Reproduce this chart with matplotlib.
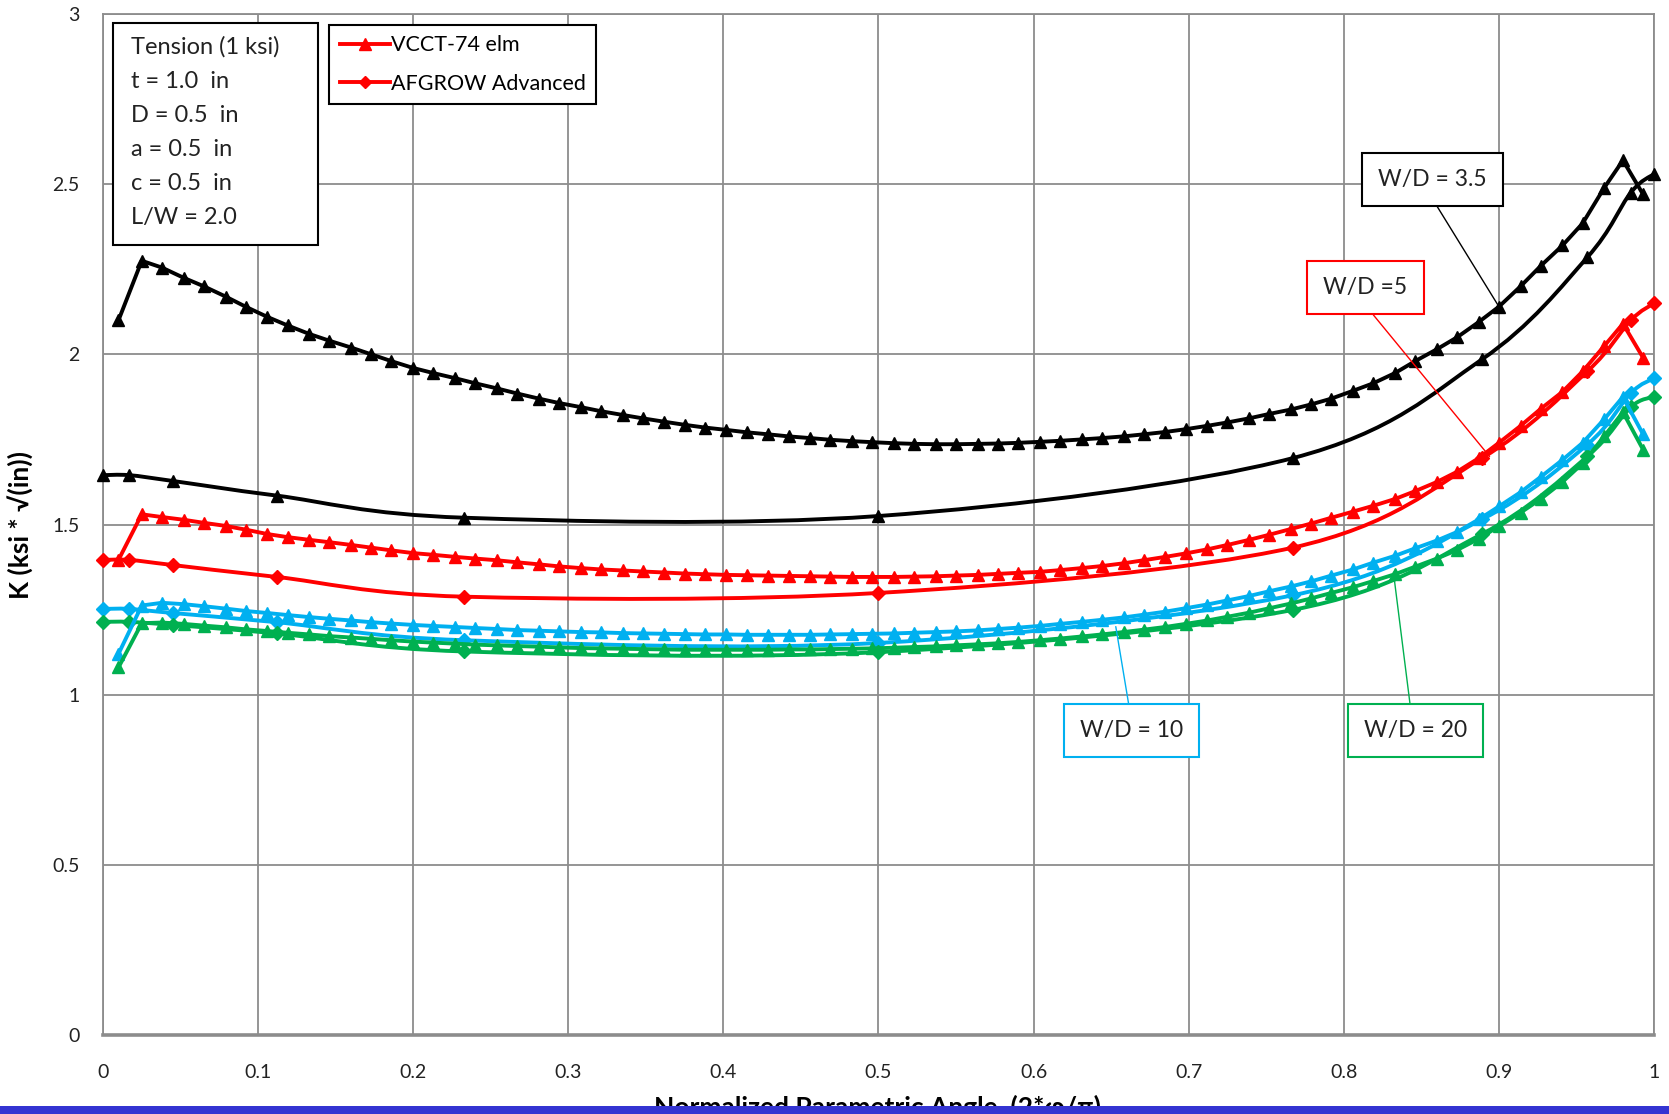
import matplotlib
matplotlib.use("Agg")
import matplotlib.pyplot as plt
from matplotlib.path import Path
from matplotlib.patches import PathPatch, Rectangle
from matplotlib.lines import Line2D

plt.rcParams['font.family'] = ['Lato', 'DejaVu Sans']

# VCCT-74 element results (parametric angle of each element)
x_vcct = [0.010, 0.025, 0.038, 0.052, 0.065, 0.079, 0.092, 0.106, 0.119, 0.133,
          0.146, 0.160, 0.173, 0.186, 0.200, 0.213, 0.227, 0.240, 0.254, 0.267,
          0.281, 0.294, 0.308, 0.321, 0.335, 0.348, 0.362, 0.375, 0.388, 0.402,
          0.415, 0.429, 0.442, 0.456, 0.469, 0.483, 0.496, 0.510, 0.523, 0.537,
          0.550, 0.564, 0.577, 0.590, 0.604, 0.617, 0.631, 0.644, 0.658, 0.671,
          0.685, 0.698, 0.712, 0.725, 0.739, 0.752, 0.766, 0.779, 0.792, 0.806,
          0.819, 0.833, 0.846, 0.860, 0.873, 0.887, 0.900, 0.914, 0.927, 0.941,
          0.954, 0.968, 0.980, 0.993]

k_vcct_35 = [2.100, 2.275, 2.255, 2.225, 2.200, 2.170, 2.140, 2.110, 2.085, 2.060,
             2.040, 2.020, 2.000, 1.980, 1.960, 1.945, 1.930, 1.915, 1.900, 1.885,
             1.870, 1.857, 1.845, 1.833, 1.822, 1.812, 1.802, 1.793, 1.785, 1.778,
             1.771, 1.765, 1.759, 1.754, 1.749, 1.745, 1.742, 1.739, 1.737, 1.736,
             1.736, 1.737, 1.738, 1.740, 1.743, 1.746, 1.750, 1.754, 1.759, 1.765,
             1.772, 1.780, 1.790, 1.800, 1.812, 1.825, 1.838, 1.853, 1.870, 1.893,
             1.915, 1.945, 1.980, 2.015, 2.050, 2.095, 2.140, 2.200, 2.260, 2.320,
             2.385, 2.490, 2.570, 2.470]

k_vcct_5 = [1.396, 1.530, 1.522, 1.514, 1.505, 1.496, 1.485, 1.472, 1.463, 1.455,
            1.448, 1.440, 1.432, 1.424, 1.416, 1.411, 1.405, 1.400, 1.395, 1.389,
            1.383, 1.377, 1.372, 1.368, 1.365, 1.362, 1.359, 1.356, 1.354, 1.352,
            1.351, 1.350, 1.349, 1.348, 1.347, 1.346, 1.346, 1.346, 1.347, 1.348,
            1.350, 1.352, 1.355, 1.358, 1.361, 1.366, 1.372, 1.378, 1.386, 1.395,
            1.405, 1.415, 1.427, 1.440, 1.455, 1.470, 1.487, 1.503, 1.520, 1.538,
            1.555, 1.575, 1.598, 1.625, 1.655, 1.695, 1.740, 1.790, 1.840, 1.890,
            1.950, 2.025, 2.090, 1.990]

k_vcct_10 = [1.120, 1.262, 1.270, 1.266, 1.260, 1.253, 1.246, 1.240, 1.234, 1.228,
             1.223, 1.218, 1.213, 1.209, 1.205, 1.202, 1.199, 1.196, 1.193, 1.190,
             1.188, 1.186, 1.184, 1.183, 1.181, 1.180, 1.179, 1.178, 1.177, 1.177,
             1.176, 1.176, 1.176, 1.176, 1.177, 1.178, 1.179, 1.180, 1.182, 1.184,
             1.186, 1.189, 1.193, 1.197, 1.202, 1.208, 1.214, 1.220, 1.227, 1.235,
             1.244, 1.254, 1.265, 1.277, 1.290, 1.304, 1.318, 1.333, 1.350, 1.368,
             1.388, 1.408, 1.430, 1.453, 1.478, 1.515, 1.553, 1.595, 1.640, 1.690,
             1.740, 1.810, 1.875, 1.765]

k_vcct_20 = [1.080, 1.210, 1.212, 1.208, 1.203, 1.198, 1.192, 1.187, 1.182, 1.177,
             1.172, 1.168, 1.164, 1.160, 1.156, 1.153, 1.150, 1.147, 1.145, 1.143,
             1.141, 1.139, 1.137, 1.136, 1.135, 1.134, 1.133, 1.132, 1.132, 1.132,
             1.132, 1.132, 1.133, 1.133, 1.134, 1.135, 1.136, 1.138, 1.140, 1.142,
             1.145, 1.148, 1.151, 1.155, 1.160, 1.165, 1.171, 1.177, 1.184, 1.191,
             1.199, 1.208, 1.218, 1.229, 1.241, 1.254, 1.268, 1.283, 1.299, 1.316,
             1.334, 1.354, 1.376, 1.400, 1.425, 1.458, 1.495, 1.535, 1.575, 1.625,
             1.680, 1.760, 1.830, 1.720]

# AFGROW Advanced results
x_afg = [0.0, 0.017, 0.045, 0.112, 0.233, 0.5, 0.767, 0.889, 0.957, 0.985, 1.0]
k_afg_35 = [1.645, 1.645, 1.628, 1.585, 1.520, 1.525, 1.695, 1.985, 2.285, 2.475, 2.530]
k_afg_5 = [1.396, 1.396, 1.381, 1.346, 1.288, 1.299, 1.432, 1.695, 1.950, 2.100, 2.150]
k_afg_10 = [1.252, 1.252, 1.240, 1.213, 1.160, 1.152, 1.292, 1.515, 1.735, 1.886, 1.930]
k_afg_20 = [1.214, 1.214, 1.205, 1.180, 1.127, 1.125, 1.249, 1.472, 1.700, 1.845, 1.875]

x_ticks = [0, 0.1, 0.2, 0.3, 0.4, 0.5, 0.6, 0.7, 0.8, 0.9, 1.0]
x_ticklabels = ['0', '0.1', '0.2', '0.3', '0.4', '0.5', '0.6', '0.7', '0.8', '0.9', '1']
y_ticks = [0, 0.5, 1.0, 1.5, 2.0, 2.5, 3.0]
y_ticklabels = ['0', '0.5', '1', '1.5', '2', '2.5', '3']

info_lines = ['Tension (1 ksi)', 't = 1.0  in', 'D = 0.5  in', 'a = 0.5  in',
              'c = 0.5  in', 'L/W = 2.0']

BLACK, RED, BLUE, GREEN = 'black', '#ff0000', '#00b0f0', '#00b050'
GRID = '#8c8c8c'


def smooth_path(xs, ys):
    # Excel style smoothed line (Catmull-Rom as cubic Bezier)
    pts = list(zip(xs, ys))
    n = len(pts)
    verts = [pts[0]]
    codes = [Path.MOVETO]
    for i in range(n - 1):
        p0 = pts[i - 1] if i > 0 else pts[i]
        p1 = pts[i]
        p2 = pts[i + 1]
        p3 = pts[i + 2] if i + 2 < n else pts[i + 1]
        c1 = (p1[0] + (p2[0] - p0[0]) / 6, p1[1] + (p2[1] - p0[1]) / 6)
        c2 = (p2[0] - (p3[0] - p1[0]) / 6, p2[1] - (p3[1] - p1[1]) / 6)
        verts += [c1, c2, p2]
        codes += [Path.CURVE4] * 3
    return Path(verts, codes)


fig = plt.figure(figsize=(16.69, 11.14), dpi=100)
ax = fig.add_axes([0.0617, 0.0709, 0.9293, 0.9165])

# AFGROW: smoothed lines
afg = [(k_afg_35, BLACK, '^', 9), (k_afg_5, RED, 'D', 7),
       (k_afg_10, BLUE, 'D', 7), (k_afg_20, GREEN, 'D', 7)]
for ys, c, m, ms in afg:
    ax.add_patch(PathPatch(smooth_path(x_afg, ys), fill=False, edgecolor=c,
                           lw=2.8, joinstyle='round', capstyle='round',
                           clip_on=False, zorder=3))
    ax.plot(x_afg, ys, linestyle='none', marker=m, color=c, ms=ms,
            clip_on=False, zorder=4)

# VCCT: straight segments with triangles
for ys, c in [(k_vcct_35, BLACK), (k_vcct_5, RED), (k_vcct_10, BLUE), (k_vcct_20, GREEN)]:
    ax.plot(x_vcct, ys, color=c, lw=2.8, marker='^', ms=9, clip_on=False, zorder=5)

ax.set_xlim(0, 1)
ax.set_ylim(0, 3)
ax.set_xticks(x_ticks)
ax.set_xticklabels(x_ticklabels)
ax.set_yticks(y_ticks)
ax.set_yticklabels(y_ticklabels)
ax.tick_params(length=0, labelsize=14, colors='#222222')
ax.tick_params(axis='x', pad=21)
ax.tick_params(axis='y', pad=17)
ax.grid(True, color=GRID, lw=1.3)
ax.set_axisbelow(True)
for s in ax.spines.values():
    s.set_color(GRID)
    s.set_linewidth(1.3)
ax.spines['bottom'].set_linewidth(2.6)

ax.set_ylabel('K (ksi * √(in))', fontsize=19, fontweight='bold', labelpad=14)
# x label sits partly under the blue strip at the bottom, as in the source image
fig.text(0.526, 0.0175, 'Normalized Parametric Angle  (2*φ/π)', ha='center', va='top',
         fontsize=19, fontweight='bold')
fig.add_artist(Rectangle((0, 0), 1, 0.0068, transform=fig.transFigure,
                         facecolor='#3434d2', edgecolor='none', zorder=10))

# info box
ax.add_patch(Rectangle((0.0062, 0.7737), 0.1324, 0.218, transform=ax.transAxes,
                       facecolor='white', edgecolor='black', lw=1.5, zorder=6))
for i, t in enumerate(info_lines):
    ax.text(0.018, 2.903 - 0.1002 * i, t, fontsize=17, va='center', ha='left',
            color='#222222', zorder=7)

# legend
handles = [Line2D([], [], color=RED, lw=2.8, marker='^', ms=9),
           Line2D([], [], color=RED, lw=2.8, marker='D', ms=6)]
leg = ax.legend(handles, ['VCCT-74 elm', 'AFGROW Advanced'], loc='upper left',
                bbox_to_anchor=(0.146, 0.9896), fontsize=15.5, frameon=True,
                fancybox=False, edgecolor='black', framealpha=1,
                handlelength=2.3, handletextpad=0.05, labelspacing=0.85,
                borderpad=0.5, borderaxespad=0)
leg.get_frame().set_linewidth(1.5)
leg.set_zorder(8)

# callouts
callouts = [('W/D = 3.5', (0.857, 2.515), (0.901, 2.133), BLACK, BLACK, (0.45, 0)),
            ('W/D =5', (0.814, 2.196), (0.894, 1.700), RED, RED, (0.43, 0)),
            ('W/D = 10', (0.663, 0.895), (0.653, 1.200), BLUE, BLUE, (0.5, 1)),
            ('W/D = 20', (0.846, 0.895), (0.832, 1.360), GREEN, GREEN, (0.47, 1))]
for txt, tpos, target, ec, lc, rp in callouts:
    ax.annotate(txt, xy=target, xytext=tpos, ha='center', va='center',
                fontsize=16.5, color='#222222', zorder=9,
                bbox=dict(boxstyle='square,pad=0.7', facecolor='white',
                          edgecolor=ec, lw=1.5),
                arrowprops=dict(arrowstyle='-', color=lc, lw=1.0,
                                relpos=rp, shrinkA=0, shrinkB=0))

plt.savefig('out.png', dpi=100)
